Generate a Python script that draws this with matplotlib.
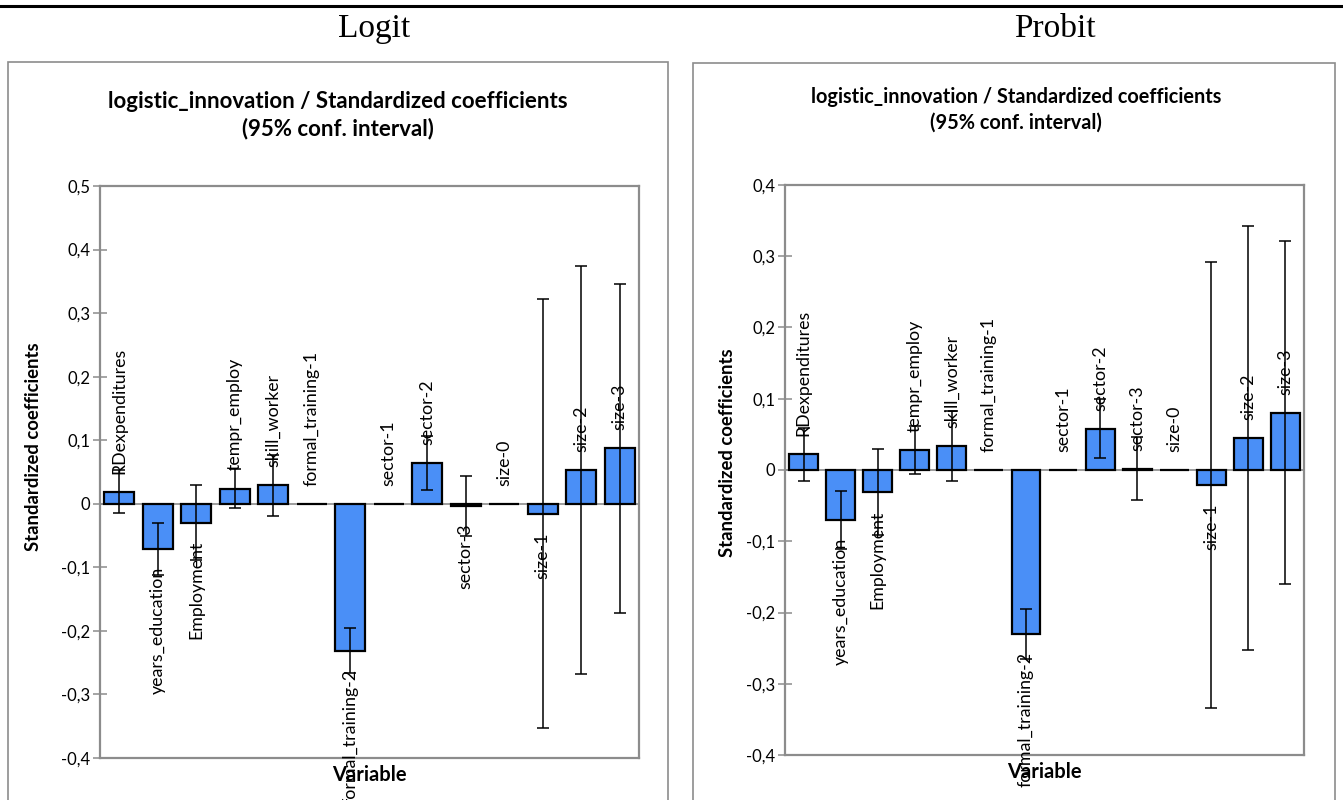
import matplotlib.pyplot as plt
from matplotlib.patches import Rectangle
from matplotlib.lines import Line2D
from matplotlib.ticker import FuncFormatter, MultipleLocator

plt.rcParams['font.family'] = ['Lato', 'DejaVu Sans']

variables = ['RDexpenditures', 'years_education', 'Employment', 'tempr_employ',
             'skill_worker', 'formal_training-1', 'formal_training-2', 'sector-1',
             'sector-2', 'sector-3', 'size-0', 'size-1', 'size-2', 'size-3']

# Logit: coefficient, lower and upper 95% bound
logit_coef = [0.018, -0.071, -0.030, 0.024, 0.029, 0.0, -0.231, 0.0,
              0.064, -0.003, 0.0, -0.016, 0.053, 0.087]
logit_low = [-0.015, -0.112, -0.089, -0.006, -0.019, 0.0, -0.267, 0.0,
             0.021, -0.050, 0.0, -0.353, -0.268, -0.172]
logit_high = [0.053, -0.030, 0.029, 0.054, 0.077, 0.0, -0.195, 0.0,
              0.107, 0.044, 0.0, 0.322, 0.374, 0.346]

# Probit
probit_coef = [0.022, -0.070, -0.031, 0.028, 0.034, 0.0, -0.230, 0.0,
               0.058, 0.002, 0.0, -0.021, 0.045, 0.080]
probit_low = [-0.015, -0.111, -0.091, -0.006, -0.015, 0.0, -0.265, 0.0,
              0.017, -0.042, 0.0, -0.334, -0.252, -0.160]
probit_high = [0.059, -0.029, 0.029, 0.062, 0.083, 0.0, -0.195, 0.0,
               0.099, 0.046, 0.0, 0.292, 0.343, 0.321]

W, H = 1343, 800
fig = plt.figure(figsize=(W / 100, H / 100), dpi=100)

# frame lines of the page
fig.add_artist(Line2D([0, 1], [1 - 6 / H, 1 - 6 / H], color='black', lw=2.2,
                      transform=fig.transFigure))
for x0, x1, y0 in [(8, 668, 62), (693, 1335, 63)]:
    fig.add_artist(Rectangle((x0 / W, -0.01), (x1 - x0) / W, 1 - y0 / H + 0.01,
                             transform=fig.transFigure, fill=False,
                             edgecolor='#8c8c8c', lw=1.2))

fig.text(374 / W, 1 - 37 / H, 'Logit', family='Liberation Serif', fontsize=24,
         ha='center', va='baseline')
fig.text(1055 / W, 1 - 37 / H, 'Probit', family='Liberation Serif', fontsize=24,
         ha='center', va='baseline')

comma = FuncFormatter(lambda v, p: '0' if abs(v) < 1e-9 else f'{v:.1f}'.replace('.', ','))


def panel(rect, coef, low, high, ylim, title_x, title_y, title_size, ylab_x, ylab_y):
    ax = fig.add_axes(rect)
    x = list(range(len(variables)))
    err = [[c - l for c, l in zip(coef, low)], [h - c for c, h in zip(coef, high)]]
    ax.bar(x, coef, width=0.78, color='#4a8ff7', edgecolor='black', lw=1.6, zorder=2)
    ax.errorbar(x, coef, yerr=err, fmt='none', ecolor='black', elinewidth=1.1,
                capsize=4.5, capthick=1.1, zorder=3)
    ax.axhline(0, color='#8c8c8c', lw=1.2, zorder=1)
    for i, (name, c) in enumerate(zip(variables, coef)):
        off = 13 if c >= 0 else -13
        ax.annotate(name, (i, c), xytext=(0, off), textcoords='offset points',
                    rotation=90, ha='center', va='bottom' if c >= 0 else 'top',
                    fontsize=12.8, zorder=4)
    ax.set_xlim(-0.5, len(variables) - 0.5)
    ax.set_ylim(*ylim)
    ax.yaxis.set_major_locator(MultipleLocator(0.1))
    ax.yaxis.set_major_formatter(comma)
    ax.set_xticks([])
    ax.tick_params(axis='y', direction='inout', length=10, width=1.1, color='#8c8c8c',
                   labelsize=12, pad=2)
    for s in ax.spines.values():
        s.set_color('#8c8c8c')
        s.set_linewidth(1.6)
    ax.set_xlabel('Variable', fontsize=14.5, fontweight='bold', labelpad=5)
    ax.set_ylabel('Standardized coefficients', fontsize=13.3, fontweight='bold')
    ax.yaxis.set_label_coords(ylab_x, ylab_y)
    fig.text(title_x / W, 1 - title_y / H,
             'logistic_innovation / Standardized coefficients\n(95% conf. interval)',
             ha='center', va='center', fontsize=title_size, fontweight='bold',
             linespacing=1.35)
    return ax


panel([100 / W, 1 - 758 / H, (639 - 100) / W, (758 - 186) / H],
      logit_coef, logit_low, logit_high, (-0.4, 0.5), 338, 115, 16, -0.108, 0.544)
panel([785 / W, 1 - 755 / H, (1304 - 785) / W, (755 - 185) / H],
      probit_coef, probit_low, probit_high, (-0.4, 0.4), 1016, 110, 14.3, -0.094, 0.53)

fig.savefig('out.png', dpi=100)
